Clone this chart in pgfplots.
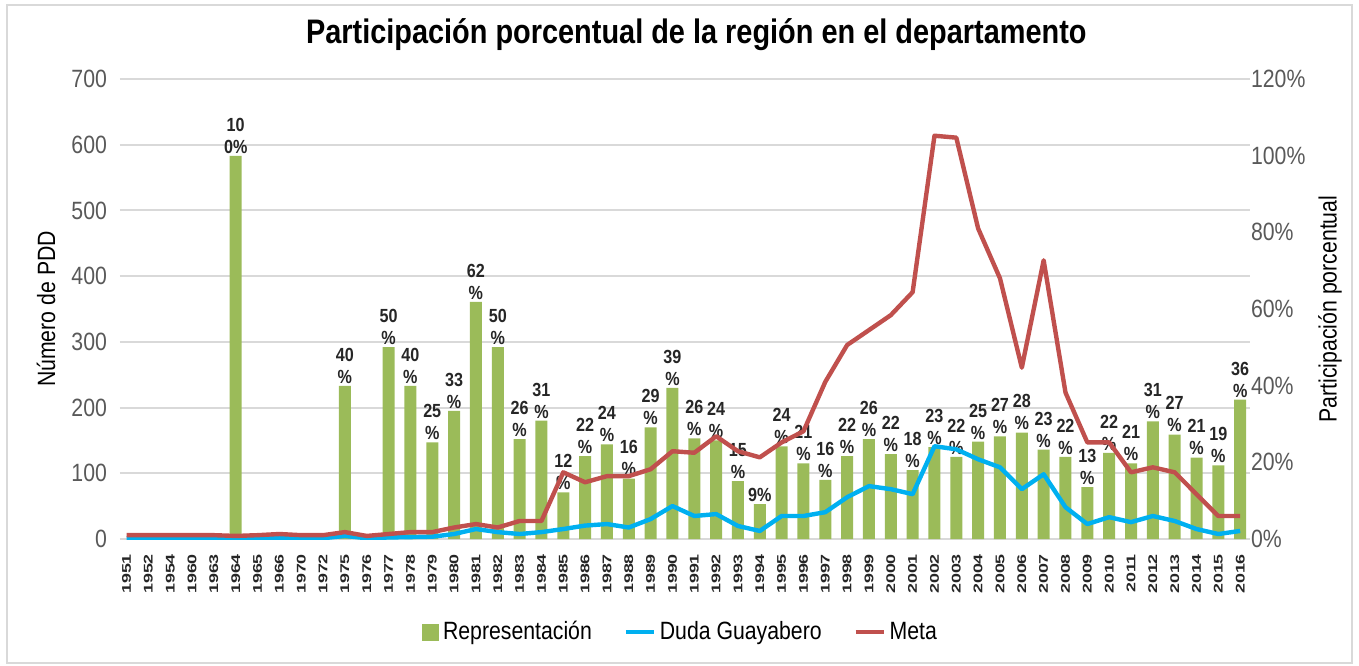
\documentclass[border=0pt]{standalone}
\usepackage{pgfplots}
\pgfplotsset{compat=1.18}
\usepackage{fontspec}
\setmainfont{Liberation Sans}[FakeStretch=0.85]

\definecolor{repgreen}{HTML}{9BBB59}
\definecolor{dudablue}{HTML}{00B0F0}
\definecolor{metared}{HTML}{C0504D}
\definecolor{gridgray}{HTML}{D9D9D9}
\definecolor{ticktext}{HTML}{595959}

\begin{document}
\begin{tikzpicture}
\pgfplotsset{
    base/.style={
        scale only axis,
        width=565pt, height=230pt,
        xmin=-0.3, xmax=51.45,
        major tick length=0pt,
        /pgf/number format/assume math mode=true,
        tick label style={font=\fontsize{12.5}{14}\selectfont, text=ticktext},
        label style={font=\fontsize{12.5}{14}\selectfont},
    },
}
% left axis: bars
\begin{axis}[
    base,
    ymin=0, ymax=700,
    ytick={0,100,...,700},
    axis x line*=bottom,
    axis y line*=left,
    y axis line style={draw=none},
    x axis line style={draw=gridgray, line width=1pt},
    ymajorgrids=true,
    grid style={draw=gridgray, line width=1pt},
    xtick={0,...,51},
    xticklabels={1951,1952,1954,1960,1963,1964,1965,1966,1970,1972,1975,1976,1977,1978,1979,1980,1981,1982,1983,1984,1985,1986,1987,1988,1989,1990,1991,1992,1993,1994,1995,1996,1997,1998,1999,2000,2001,2002,2003,2004,2005,2006,2007,2008,2009,2010,2011,2012,2013,2014,2015,2016},
    xticklabel style={yshift=-4pt, rotate=90, anchor=east, yscale=0.6, font=\bfseries\fontsize{10.5}{12}\selectfont, text=black!85},
    yticklabel style={xshift=-3pt},
    ylabel={Número de PDD},
    ylabel style={at={(axis description cs:-0.0655,0.5)}, anchor=center},
    title={Participación porcentual de la región en el departamento},
    title style={font=\bfseries\fontsize{17}{19}\selectfont, at={(axis description cs:0.51,1)}, anchor=center, yshift=16pt},
    ybar, bar width=6pt,
    point meta=explicit symbolic,
    nodes near coords={\ifnum\pgfplotspointmeta=100 10\\0\%\else\ifnum\pgfplotspointmeta<10 \pgfplotspointmeta\%\else\pgfplotspointmeta\\\%\fi\fi},
    every node near coord/.append style={font=\bfseries\fontsize{9.5}{11}\selectfont, align=center, inner sep=1pt, text=black!85},
]
\addplot[fill=repgreen, draw=none] coordinates {
(5,583)[100] (10,233)[40] (12,292)[50] (13,233)[40] (14,147)[25] (15,195)[33]
(16,361)[62] (17,292)[50] (18,152)[26] (19,180)[31] (20,71)[12] (21,126)[22]
(22,144)[24] (23,92)[16] (24,170)[29] (25,230)[39] (26,153)[26] (27,150)[24]
(28,88)[15] (29,53)[9] (30,141)[24] (31,115)[21] (32,90)[16] (33,126)[22]
(34,152)[26] (35,129)[22] (36,105)[18] (37,140)[23] (38,125)[22] (39,148)[25]
(40,156)[27] (41,162)[28] (42,136)[23] (43,125)[22] (44,79)[13] (45,131)[22]
(46,115)[21] (47,179)[31] (48,159)[27] (49,124)[21] (50,112)[19] (51,212)[36]
};
\end{axis}
% right axis: percentage lines
\begin{axis}[
    base,
    ymin=0, ymax=120,
    ytick={0,20,...,120},
    yticklabels={0\%,20\%,40\%,60\%,80\%,100\%,120\%},
    axis x line=none,
    axis y line*=right,
    y axis line style={draw=none},
    yticklabel style={anchor=west, xshift=-3pt},
    ylabel={Participación porcentual},
    ylabel style={at={(axis description cs:1.0708,0.5)}, anchor=center},
    legend style={at={(axis description cs:0.497,-0.202)}, anchor=center, draw=none,
        font=\fontsize{12.5}{14}\selectfont, column sep=0pt,
        /tikz/every even column/.append style={column sep=14pt}},
    legend columns=3,
    legend cell align=left,
]
\addlegendimage{legend image code/.code={\fill[repgreen] (0pt,-4pt) rectangle (8pt,4pt);}}
\addlegendentry{Representación}
\addplot[color=dudablue, line width=2.2pt, line join=round,
    legend image code/.code={\draw[dudablue, line width=2pt] (0pt,0pt) -- (14pt,0pt);}] coordinates {
(0,0.2)(1,0.2)(2,0.2)(3,0.2)(4,0.2)(5,0.2)(6,0.2)(7,0.3)(8,0.2)(9,0.2)
(10,0.8)(11,0.2)(12,0.4)(13,0.5)(14,0.6)(15,1.3)(16,2.6)(17,1.8)(18,1.3)(19,1.8)
(20,2.6)(21,3.5)(22,3.9)(23,3.0)(24,5.2)(25,8.6)(26,6.0)(27,6.5)(28,3.4)(29,2.1)
(30,6.0)(31,6.0)(32,7.0)(33,10.9)(34,13.8)(35,13.0)(36,11.7)(37,24.2)(38,23.4)(39,20.8)
(40,18.7)(41,13.0)(42,16.9)(43,8.3)(44,3.9)(45,5.7)(46,4.4)(47,6.0)(48,4.7)(49,2.6)
(50,1.3)(51,2.1)
};
\addlegendentry{Duda Guayabero}
\addplot[color=metared, line width=2.2pt, line join=round,
    legend image code/.code={\draw[metared, line width=2pt] (0pt,0pt) -- (14pt,0pt);}] coordinates {
(0,1.0)(1,1.0)(2,1.0)(3,1.0)(4,1.0)(5,0.8)(6,1.0)(7,1.3)(8,1.0)(9,1.0)
(10,1.8)(11,0.8)(12,1.3)(13,1.8)(14,1.8)(15,3.0)(16,3.9)(17,3.0)(18,4.7)(19,4.7)
(20,17.4)(21,14.8)(22,16.4)(23,16.4)(24,18.2)(25,22.9)(26,22.5)(27,26.8)(28,22.9)(29,21.3)
(30,25.2)(31,28.1)(32,41.0)(33,50.6)(34,54.5)(35,58.4)(36,64.4)(37,105.2)(38,104.7)(39,81.0)
(40,68.0)(41,44.7)(42,72.7)(43,38.2)(44,25.2)(45,25.2)(46,17.4)(47,18.7)(48,17.4)(49,11.7)
(50,6.0)(51,6.0)
};
\addlegendentry{Meta}
\end{axis}
\draw[gridgray, line width=0.6pt] (-56.5pt,-62pt) rectangle (616pt,267pt);
\path[use as bounding box] (-60pt,-63pt) rectangle (619.5pt,269.5pt);
\end{tikzpicture}
\end{document}
